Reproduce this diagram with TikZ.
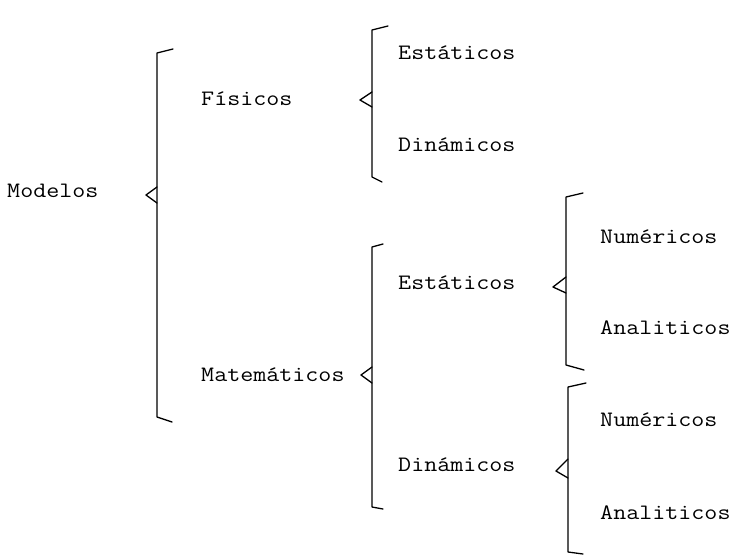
\documentclass[tikz,border=0pt]{standalone}
\begin{document}
\begin{tikzpicture}[x=1pt,y=-1pt,
  term/.style={anchor=base west, inner sep=0pt,
    font=\fontsize{22}{24}\selectfont\ttfamily, xscale=1.15},
  brace/.style={line width=1.3pt, line join=round, line cap=round}]
\useasboundingbox (0,0) rectangle (734,555);

% terms of the classification
\node[term] (modelos) at (7,197) {Modelos};
\node[term] (fisicos) at (201,105) {Físicos};
\node[term] (matem) at (201,381) {Matemáticos};
\node[term] (fest) at (398,59) {Estáticos};
\node[term] (fdin) at (398,151) {Dinámicos};
\node[term] (mest) at (398,289) {Estáticos};
\node[term] (mdin) at (398,471) {Dinámicos};
\node[term] (enum) at (600,243) {Numéricos};
\node[term] (eana) at (600,334) {Analiticos};
\node[term] (dnum) at (600,426) {Numéricos};
\node[term] (dana) at (600,519) {Analiticos};

% Modelos
\coordinate (b0t) at (157,53);  \coordinate (b0b) at (157,417);
\draw[brace] (173,49) -- (b0t) -- (b0b) -- (172,422);
\draw[brace] (157,187) -- (146,195) -- (157,203);

% Fisicos
\coordinate (b1t) at (372,30);  \coordinate (b1b) at (372,177);
\draw[brace] (388,26) -- (b1t) -- (b1b) -- (382,182);
\draw[brace] (372,92) -- (360,100) -- (372,107);

% Matematicos
\coordinate (b2t) at (372,247); \coordinate (b2b) at (372,507);
\draw[brace] (383,244) -- (b2t) -- (b2b) -- (383,509);
\draw[brace] (372,367) -- (361,375) -- (372,383);

% Estaticos (matematicos)
\coordinate (b3t) at (566,197); \coordinate (b3b) at (566,365);
\draw[brace] (583,193) -- (b3t) -- (b3b) -- (584,370);
\draw[brace] (566,277) -- (553,287) -- (566,293);

% Dinamicos (matematicos)
\coordinate (b4t) at (568,387); \coordinate (b4b) at (568,552);
\draw[brace] (586,383) -- (b4t) -- (b4b) -- (583,554);
\draw[brace] (568,459) -- (556,471) -- (568,478);
\end{tikzpicture}
\end{document}
